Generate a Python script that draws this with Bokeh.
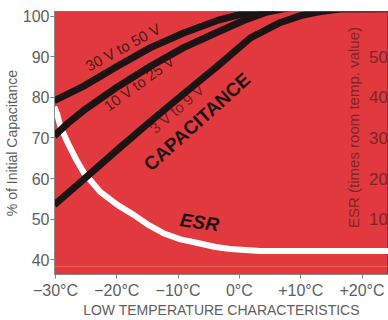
import math
from bokeh.plotting import figure
from bokeh.models import Range1d, FixedTicker, Span, ColumnDataSource
from bokeh.core.properties import value
from bokeh.embed import file_html
from bokeh.resources import INLINE

# ---- data ----
temp_ticks = [-30, -20, -10, 0, 10, 20]
temp_labels = ["\u221230\u00b0C", "\u221220\u00b0C", "\u221210\u00b0C", "0\u00b0C", "+10\u00b0C", "+20\u00b0C"]
cap_ticks = [40, 50, 60, 70, 80, 90, 100]
esr_ticks = [10, 20, 30, 40, 50]
esr_tick_labels = ["10", "20", "30", "40", "50"]

# capacitance, 30 V to 50 V
cap_hi_t = [-30.2, -25.4, -19.9, -14.5, -9.1, -3.6, 0.7, 5.1, 10.0]
cap_hi_v = [79.2, 82.8, 87.7, 92.3, 95.9, 99.0, 100.7, 101.9, 102.9]
# capacitance, 10 V to 25 V
cap_mid_t = [-30.2, -28.0, -25.4, -19.9, -14.5, -9.1, -3.6, 0.7, 4.3, 8.3]
cap_mid_v = [70.5, 73.6, 76.8, 82.6, 87.7, 92.3, 96.1, 99.0, 101.0, 102.2]
# capacitance, 3 V to 9 V
cap_lo_t = [-30.2, -25.4, -19.9, -14.5, -9.1, -3.6, 1.8, 6.7, 10.0, 13.2, 16.5, 24.4]
cap_lo_v = [53.5, 59.8, 67.1, 74.1, 80.9, 87.7, 94.7, 98.5, 100.2, 101.2, 101.8, 101.9]
# ESR (times room temperature value)
esr_t = [-30.2, -29.7, -29.2, -28.0, -26.7, -25.4, -22.7, -19.9, -17.3, -15.0, -12.4,
         -9.6, -6.8, -3.9, -1.5, 3.4, 24.4]
esr_v = [37.7, 35.8, 32.8, 28.8, 24.9, 21.5, 16.7, 13.5, 11.1, 8.7, 6.5,
         5.0, 4.1, 3.1, 2.6, 2.1, 2.1]

curve_labels = ["30 V to 50 V", "10 V to 25 V", "3 V to 9 V"]
curve_label_t = [-19.0, -16.4, -10.2]
curve_label_v = [92.4, 83.5, 77.2]
curve_label_deg = [28.7, 36.0, 41.0]

RED = "#e1393d"
INK = "#1c1414"
GREY = "#5e5e5e"
ESRCOL = "#7e2628"
SANS = "Liberation Sans"

p = figure(width=388, height=320, output_backend="svg", toolbar_location=None,
           x_range=Range1d(-30.16, 24.32), y_range=Range1d(36.32, 101.21),
           min_border_left=54, min_border_right=0, min_border_top=11, min_border_bottom=41)
p.extra_y_ranges = {"esr": Range1d(-3.68, 61.21)}
p.background_fill_color = RED
p.border_fill_color = "white"
p.outline_line_color = "#4a2a2a"
p.outline_line_alpha = 0.5
p.grid.visible = False

# axes
p.xaxis.ticker = FixedTicker(ticks=temp_ticks)
p.xaxis.major_label_overrides = dict(zip(temp_ticks, temp_labels))
p.xaxis.axis_label = "LOW TEMPERATURE CHARACTERISTICS"
p.yaxis.ticker = FixedTicker(ticks=cap_ticks)
p.yaxis.axis_label = "% of Initial Capacitance"
for ax in (p.xaxis[0], p.yaxis[0]):
    ax.minor_tick_line_color = None
    ax.major_tick_in = 0
    ax.major_tick_out = 4
    ax.major_tick_line_color = "#808080"
    ax.axis_line_color = "#8a8a8a"
    ax.major_label_text_font = SANS
    ax.major_label_text_font_size = "16px"
    ax.major_label_text_color = GREY
    ax.axis_label_text_font = SANS
    ax.axis_label_text_font_size = "14px"
    ax.axis_label_text_font_style = "normal"
    ax.axis_label_text_color = GREY
p.xaxis.major_label_standoff = 3
p.xaxis.axis_label_standoff = 0
p.yaxis.major_label_standoff = 1
p.yaxis.axis_label_standoff = 0

# faint printed line near the bottom
p.add_layout(Span(location=38.3, dimension="width", line_color="#f2845c", line_alpha=0.55, line_width=1))

# ESR curve (white), on ESR scale
p.line(esr_t, esr_v, y_range_name="esr", line_color="white", line_width=6, line_join="round")

# capacitance curves
for tt, vv in ((cap_hi_t, cap_hi_v), (cap_mid_t, cap_mid_v), (cap_lo_t, cap_lo_v)):
    p.line(tt, vv, line_color=INK, line_width=7, line_join="round")

# curve labels
src = ColumnDataSource(dict(x=curve_label_t, y=curve_label_v, text=curve_labels,
                            angle=[math.radians(a) for a in curve_label_deg],
                            alpha=[0.85, 0.8, 0.65]))
p.text(x="x", y="y", text="text", angle="angle", source=src, text_font=value(SANS),
       text_font_size="15px", text_color="#2a1515", text_alpha="alpha",
       text_align="center", text_baseline="middle")

p.text(x=[-6.9], y=[74.0], text=["CAPACITANCE"], angle=math.radians(42),
       text_font=value(SANS), text_font_style="bold", text_font_size="19px",
       text_color=INK, text_align="center", text_baseline="middle")
p.text(x=[-6.5], y=[49.2], text=["ESR"], angle=math.radians(-8),
       text_font=value(SANS), text_font_style="bold italic", text_font_size="19px",
       text_color=INK, text_align="center", text_baseline="middle")

# ESR scale drawn inside the red area
esr_src = ColumnDataSource(dict(x=[22.7] * len(esr_ticks), y=esr_ticks, text=esr_tick_labels))
p.text(x="x", y="y", text="text", source=esr_src, y_range_name="esr",
       text_font=value(SANS), text_font_size="17px", text_color=ESRCOL,
       text_align="center", text_baseline="middle")
p.text(x=[18.6], y=[32.6], text=["ESR (times room temp. value)"], y_range_name="esr",
       angle=math.pi / 2, text_font=value(SANS), text_font_size="15px",
       text_color=ESRCOL, text_align="center", text_baseline="middle")

open("out.html", "w").write(file_html(p, INLINE))
